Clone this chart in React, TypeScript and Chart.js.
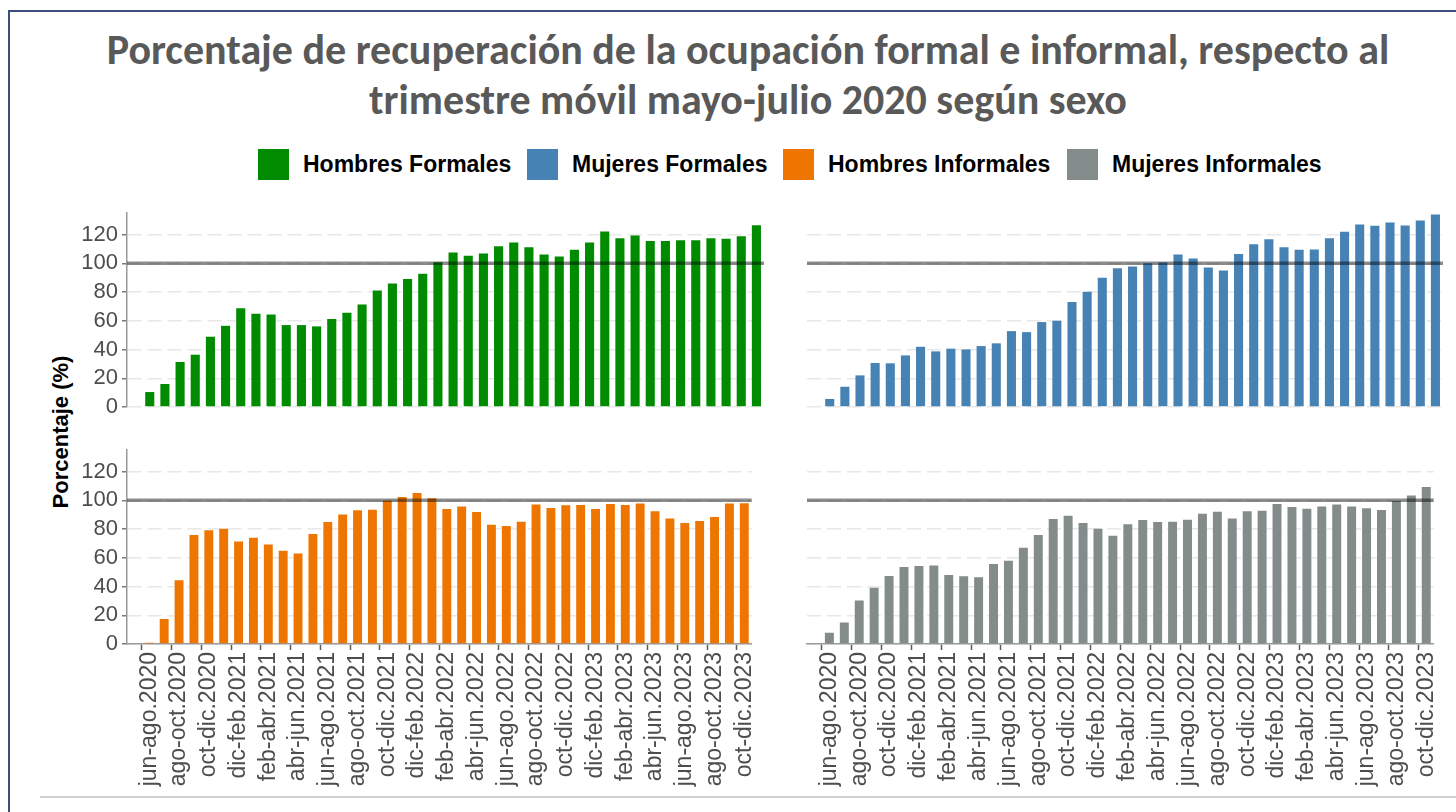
import React, { useEffect, useRef } from "react";
import { Chart, registerables } from "chart.js";

Chart.register(...registerables);

// ---------- DATA ----------
const PERIODS: string[] = [
  "may-jul.2020", "jun-ago.2020", "jul-sep.2020", "ago-oct.2020", "sep-nov.2020", "oct-dic.2020",
  "nov-ene.2021", "dic-feb.2021", "ene-mar.2021", "feb-abr.2021", "mar-may.2021", "abr-jun.2021",
  "may-jul.2021", "jun-ago.2021", "jul-sep.2021", "ago-oct.2021", "sep-nov.2021", "oct-dic.2021",
  "nov-ene.2022", "dic-feb.2022", "ene-mar.2022", "feb-abr.2022", "mar-may.2022", "abr-jun.2022",
  "may-jul.2022", "jun-ago.2022", "jul-sep.2022", "ago-oct.2022", "sep-nov.2022", "oct-dic.2022",
  "nov-ene.2023", "dic-feb.2023", "ene-mar.2023", "feb-abr.2023", "mar-may.2023", "abr-jun.2023",
  "may-jul.2023", "jun-ago.2023", "jul-sep.2023", "ago-oct.2023", "sep-nov.2023", "oct-dic.2023",
];

const HOMBRES_FORMALES: number[] = [
  0, 10.4, 16.0, 31.3, 36.4, 48.9, 56.5, 68.8, 64.9, 64.4, 57.0, 57.0, 56.1, 61.2, 65.6, 71.4,
  81.1, 86.0, 89.0, 92.7, 100.8, 107.5, 105.2, 106.8, 111.9, 114.5, 111.2, 106.1, 104.8, 109.4,
  114.5, 122.1, 117.5, 119.4, 115.6, 115.6, 116.1, 116.1, 117.5, 117.0, 118.9, 126.5,
];

const MUJERES_FORMALES: number[] = [
  0, 5.6, 14.1, 22.0, 30.6, 30.4, 35.9, 41.9, 38.7, 40.6, 40.1, 42.4, 44.3, 52.8, 52.1, 59.1,
  60.0, 73.0, 80.2, 89.9, 96.6, 97.8, 100.1, 100.6, 106.1, 103.4, 97.1, 95.0, 106.4, 113.3,
  116.8, 111.2, 109.4, 109.6, 117.5, 121.9, 127.0, 126.1, 128.4, 126.3, 129.8, 133.9,
];

const HOMBRES_INFORMALES: number[] = [
  0, 0.9, 17.4, 44.4, 75.8, 79.1, 80.2, 71.4, 74.0, 69.3, 64.9, 63.0, 76.5, 84.9, 90.2, 93.0,
  93.5, 99.8, 102.3, 105.1, 101.4, 94.0, 95.6, 91.9, 83.0, 82.1, 85.1, 97.0, 94.7, 96.5,
  96.7, 94.0, 97.4, 96.7, 97.7, 92.3, 87.4, 84.2, 85.6, 88.4, 97.7, 97.9,
];

const MUJERES_INFORMALES: number[] = [
  0, 7.9, 14.9, 30.2, 39.1, 47.4, 53.5, 54.2, 54.7, 48.1, 47.2, 46.5, 55.6, 57.9, 67.0, 75.8,
  87.0, 89.3, 84.2, 80.2, 75.3, 83.3, 86.3, 84.9, 85.1, 86.5, 90.7, 92.1, 87.4, 92.3,
  92.8, 97.4, 95.3, 94.2, 95.6, 97.0, 95.6, 94.4, 93.3, 99.5, 103.3, 109.3,
];

const SERIES_NAMES: string[] = ["Hombres Formales", "Mujeres Formales", "Hombres Informales", "Mujeres Informales"];
const SERIES_COLORS: string[] = ["#008B00", "#4682B4", "#EE7600", "#838B8B"];
const Y_TICKS: number[] = [0, 20, 40, 60, 80, 100, 120];
const Y_MAX = 135;
const REFERENCE = 100;

const TITLE_LINE_1 = "Porcentaje de recuperación de la ocupación formal e informal, respecto al";
const TITLE_LINE_2 = "trimestre móvil mayo-julio 2020 según sexo";
const Y_TITLE = "Porcentaje (%)";

// ---------- STYLE ----------
const Y_TICK_FONT = { family: "'Liberation Sans', Arial, sans-serif", size: 22 };
const X_TICK_FONT = { family: "'Liberation Sans', Arial, sans-serif", size: 23 };
const TEXT_GRAY = "#4d4d4d";
const AXIS_GRAY = "#9a9a9a";
const GRID_GRAY = "#e8e8e8";

const refLinePlugin = {
  id: "refLine",
  afterDatasetsDraw(chart: any) {
    const { ctx, chartArea } = chart;
    const y = chart.scales.y.getPixelForValue(REFERENCE);
    ctx.save();
    ctx.strokeStyle = "rgba(0,0,0,0.45)";
    ctx.lineWidth = 3.5;
    ctx.beginPath();
    ctx.moveTo(chartArea.left, y);
    ctx.lineTo(chartArea.right, y);
    ctx.stroke();
    ctx.restore();
  },
};

type PanelProps = {
  values: number[];
  color: string;
  left: number;
  top: number;
  width: number;
  height: number;
  showY: boolean;
  showX: boolean;
  pad: { top: number; bottom: number; left: number; right: number };
  xHeight: number;
};

function Panel(p: PanelProps) {
  const ref = useRef<HTMLCanvasElement | null>(null);
  useEffect(() => {
    if (!ref.current) return;
    const chart = new Chart(ref.current, {
      type: "bar",
      data: {
        labels: PERIODS,
        datasets: [
          {
            data: p.values,
            backgroundColor: p.color,
            borderWidth: 0,
            categoryPercentage: 1,
            barPercentage: 0.6,
          },
        ],
      },
      options: {
        animation: false,
        responsive: false,
        maintainAspectRatio: false,
        layout: { padding: p.pad },
        plugins: { legend: { display: false }, tooltip: { enabled: false }, title: { display: false } },
        scales: {
          x: {
            display: p.showX,
            offset: true,
            grid: {
              display: true,
              drawOnChartArea: false,
              drawTicks: true,
              tickLength: 6,
              tickWidth: 1.5,
              tickColor: (c: any) => (c.index % 2 === 1 ? "#5a5a5a" : "rgba(0,0,0,0)"),
            },
            border: { display: true, color: AXIS_GRAY, width: 1.5 },
            ticks: {
              autoSkip: false,
              maxRotation: 90,
              minRotation: 90,
              padding: 2,
              color: TEXT_GRAY,
              font: X_TICK_FONT,
              callback: (_v: any, i: number) => (i % 2 === 1 ? PERIODS[i] : ""),
            },
            afterFit: (s: any) => {
              s.height = p.xHeight;
            },
          },
          y: {
            min: 0,
            max: Y_MAX,
            afterBuildTicks: (s: any) => {
              s.ticks = Y_TICKS.map((v) => ({ value: v }));
            },
            ticks: {
              display: p.showY,
              includeBounds: false,
              color: TEXT_GRAY,
              font: Y_TICK_FONT,
              padding: 4,
            },
            grid: {
              color: GRID_GRAY,
              lineWidth: 1.5,
              drawTicks: p.showY,
              tickLength: 5,
              tickWidth: 1.5,
              tickColor: "#7a7a7a",
            },
            border: { display: p.showY, color: AXIS_GRAY, width: 1.5, dash: [14, 6] },
            afterFit: (s: any) => {
              s.width = p.showY ? 67 : 0;
            },
          },
        },
      } as any,
      plugins: [refLinePlugin],
    });
    return () => chart.destroy();
  }, []);
  return (
    <canvas
      ref={ref}
      width={p.width}
      height={p.height}
      style={{ position: "absolute", left: p.left, top: p.top, width: p.width, height: p.height }}
    />
  );
}

const LEGEND_X = [258, 527, 783, 1067];

export default function App() {
  const leftGeo = { left: 60, width: 714 };
  const rightGeo = { left: 790, width: 666 };
  const topGeo = { top: 195, height: 230 };
  const botGeo = { top: 432, height: 368 };
  const padTL = { top: 18, bottom: 18, left: 0, right: 10 };
  const padTR = { top: 18, bottom: 18, left: 17, right: 13 };
  const padBL = { top: 18, bottom: 0, left: 0, right: 10 };
  const padBR = { top: 18, bottom: 0, left: 17, right: 13 };
  return (
    <div
      style={{
        position: "fixed",
        left: 0,
        top: 0,
        width: 1456,
        height: 812,
        overflow: "hidden",
        background: "#ffffff",
        fontFamily: "'Liberation Sans', Arial, sans-serif",
      }}
    >
      <div style={{ position: "absolute", left: 9, top: 10, width: 1447, height: 1.5, background: "#3c4f7a" }} />
      <div style={{ position: "absolute", left: 8, top: 10, width: 1.5, height: 802, background: "#3c4f7a" }} />
      <div style={{ position: "absolute", left: 40, top: 796, width: 1416, height: 2, background: "#cfcfcf" }} />

      <div
        style={{
          position: "absolute",
          left: 40,
          top: 25,
          width: 1416,
          textAlign: "center",
          fontFamily: "Carlito, Calibri, Lato, sans-serif",
          fontWeight: 700,
          fontSize: 42,
          lineHeight: "50px",
          color: "#595959",
          whiteSpace: "nowrap",
        }}
      >
        {TITLE_LINE_1}
        <br />
        {TITLE_LINE_2}
      </div>

      {SERIES_NAMES.map((name, i) => (
        <div
          key={name}
          style={{ position: "absolute", left: LEGEND_X[i], top: 148, height: 32, display: "flex", alignItems: "center" }}
        >
          <div style={{ width: 31, height: 31, background: SERIES_COLORS[i] }} />
          <div style={{ marginLeft: 14, fontWeight: 700, fontSize: 23, color: "#000", whiteSpace: "nowrap" }}>{name}</div>
        </div>
      ))}

      <div
        style={{
          position: "absolute",
          left: 61,
          top: 432,
          transform: "translate(-50%, -50%) rotate(-90deg)",
          fontWeight: 700,
          fontSize: 22,
          color: "#000",
          whiteSpace: "nowrap",
        }}
      >
        {Y_TITLE}
      </div>

      <Panel values={HOMBRES_FORMALES} color={SERIES_COLORS[0]} {...leftGeo} {...topGeo} showY={true} showX={false} pad={padTL} xHeight={0} />
      <Panel values={MUJERES_FORMALES} color={SERIES_COLORS[1]} {...rightGeo} {...topGeo} showY={false} showX={false} pad={padTR} xHeight={0} />
      <Panel values={HOMBRES_INFORMALES} color={SERIES_COLORS[2]} {...leftGeo} {...botGeo} showY={true} showX={true} pad={padBL} xHeight={156} />
      <Panel values={MUJERES_INFORMALES} color={SERIES_COLORS[3]} {...rightGeo} {...botGeo} showY={false} showX={true} pad={padBR} xHeight={156} />
    </div>
  );
}
